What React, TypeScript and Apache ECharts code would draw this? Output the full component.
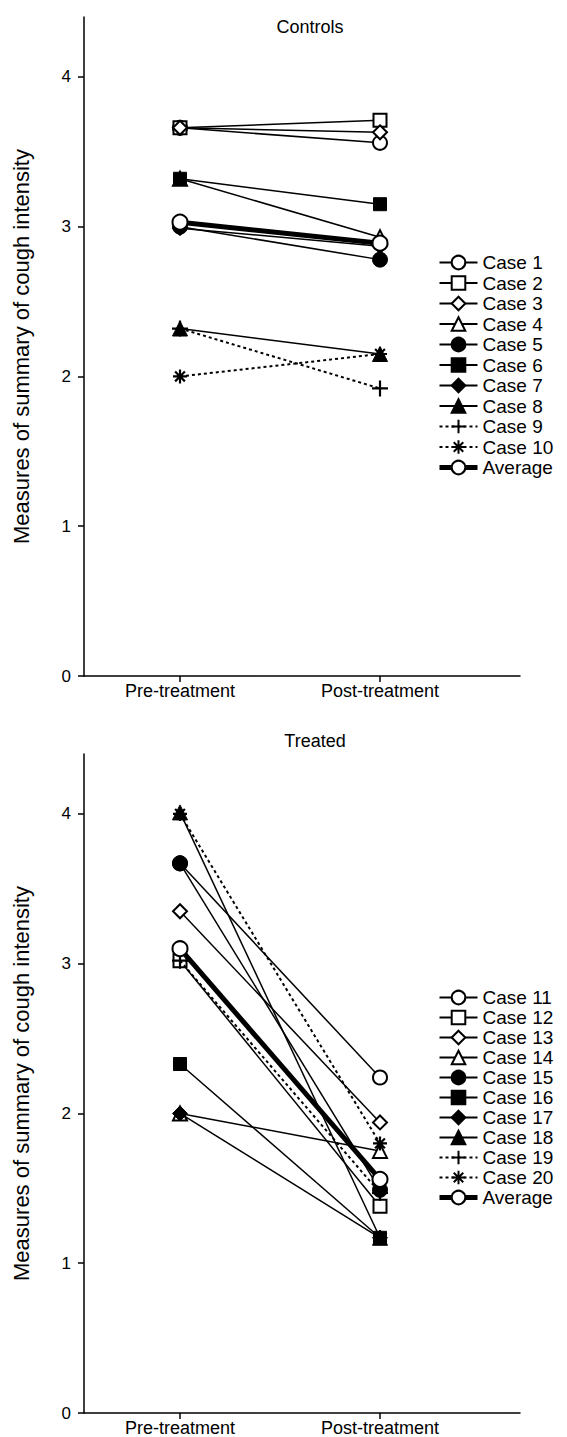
import React, { useEffect, useRef } from "react";
import * as echarts from "echarts";

const timeLabels = ["Pre-treatment", "Post-treatment"];
const timeValues = [1, 3];
const yTicks = [0, 1, 2, 3, 4];

const controlNames = ["Case 1", "Case 2", "Case 3", "Case 4", "Case 5", "Case 6", "Case 7", "Case 8", "Case 9", "Case 10"];
const controlPre = [3.66, 3.66, 3.66, 3.32, 3.0, 3.32, 2.99, 2.32, 2.32, 2.0];
const controlPost = [3.56, 3.71, 3.63, 2.93, 2.78, 3.15, 2.87, 2.15, 1.92, 2.15];
const controlAverage = [3.03, 2.89];

const treatedNames = ["Case 11", "Case 12", "Case 13", "Case 14", "Case 15", "Case 16", "Case 17", "Case 18", "Case 19", "Case 20"];
const treatedPre = [3.67, 3.02, 3.35, 2.0, 3.67, 2.33, 2.0, 4.01, 3.02, 4.0];
const treatedPost = [2.24, 1.38, 1.94, 1.75, 1.49, 1.17, 1.17, 1.17, 1.47, 1.8];
const treatedAverage = [3.1, 1.56];

const FONT = "Liberation Sans";
const PLUS = "path://M5 0L5 10M0 5L10 5";
const STAR = "path://M5 0L5 10M0 5L10 5M1.5 1.5L8.5 8.5M8.5 1.5L1.5 8.5";

function markerStyle(i: number) {
  const shapes = ["circle", "rect", "diamond", "triangle"];
  if (i < 4) {
    return { symbol: shapes[i], symbolSize: i === 1 ? 13 : 14, itemStyle: { color: "#fff", borderColor: "#000", borderWidth: 2 }, dashed: false };
  }
  if (i < 8) {
    return { symbol: shapes[i - 4], symbolSize: i === 5 ? 13 : 15, itemStyle: { color: "#000", borderColor: "#000", borderWidth: 1 }, dashed: false };
  }
  return {
    symbol: i === 8 ? PLUS : STAR,
    symbolSize: i === 8 ? 16 : 14,
    itemStyle: { color: "none", borderColor: "#000", borderWidth: 2.2 },
    dashed: true,
  };
}

function buildSeries(names: string[], pre: number[], post: number[], avg: number[], idx: number) {
  const list: any[] = names.map((name, i) => {
    const m = markerStyle(i);
    return {
      name,
      type: "line",
      xAxisIndex: idx,
      yAxisIndex: idx,
      data: [
        [timeValues[0], pre[i]],
        [timeValues[1], post[i]],
      ],
      symbol: m.symbol,
      symbolSize: m.symbolSize,
      showAllSymbol: true,
      itemStyle: m.itemStyle,
      lineStyle: { color: "#000", width: m.dashed ? 2 : 1.5, type: m.dashed ? [3, 3] : "solid" },
      z: 2 + i * 0.01,
    };
  });
  list.push({
    name: "Average",
    type: "line",
    xAxisIndex: idx,
    yAxisIndex: idx,
    data: [
      [timeValues[0], avg[0]],
      [timeValues[1], avg[1]],
    ],
    symbol: "circle",
    symbolSize: 15,
    itemStyle: { color: "#fff", borderColor: "#000", borderWidth: 2 },
    lineStyle: { color: "#000", width: 5 },
    z: 3,
  });
  return list;
}

const PLOT_H = 659;
const GRID_LEFT = 84;
const GRID_W = 436;
const TOPS = [17, 754];

function xAxis(idx: number) {
  return {
    type: "value",
    gridIndex: idx,
    min: 0.04,
    max: 4.4,
    splitLine: { show: false },
    axisLine: { lineStyle: { color: "#000", width: 1.5 } },
    axisTick: { show: true, customValues: timeValues, length: 6, lineStyle: { color: "#000", width: 1.5 } },
    axisLabel: {
      customValues: timeValues,
      margin: 6,
      color: "#000",
      fontFamily: FONT,
      fontSize: 18,
      formatter: (v: number) => timeLabels[timeValues.indexOf(v)] ?? "",
    },
  };
}

function yAxis(idx: number) {
  return {
    type: "value",
    gridIndex: idx,
    min: 0,
    max: 4.4,
    name: "Measures of summary of cough intensity",
    nameLocation: "middle",
    nameGap: 52,
    nameTextStyle: { color: "#000", fontFamily: FONT, fontSize: 22 },
    splitLine: { show: false },
    axisLine: { show: true, lineStyle: { color: "#000", width: 1.5 } },
    axisTick: { show: true, customValues: yTicks, length: 6, lineStyle: { color: "#000", width: 1.5 } },
    axisLabel: { customValues: yTicks, margin: 13, color: "#000", fontFamily: FONT, fontSize: 17 },
  };
}

function legend(names: string[], top: number, gap: number) {
  return {
    orient: "vertical",
    left: 432,
    top,
    itemWidth: 38,
    itemHeight: 17,
    itemGap: gap,
    data: [...names, { name: "Average", lineStyle: { width: 5 } }],
    textStyle: { color: "#000", fontFamily: FONT, fontSize: 19 },
  };
}

export default function App() {
  const ref = useRef<HTMLDivElement>(null);
  useEffect(() => {
    if (!ref.current) return;
    const chart = echarts.init(ref.current, null, { renderer: "svg" });
    chart.setOption({
      animation: false,
      backgroundColor: "#fff",
      grid: TOPS.map((t) => ({ left: GRID_LEFT, top: t, width: GRID_W, height: PLOT_H })),
      xAxis: [xAxis(0), xAxis(1)],
      yAxis: [yAxis(0), yAxis(1)],
      legend: [legend(controlNames, 248, 1.5), legend(treatedNames, 983, 1)],
      graphic: [
        { type: "text", x: 310, y: 27, style: { text: "Controls", fontFamily: FONT, fontSize: 18, fill: "#000", align: "center", verticalAlign: "middle" } },
        { type: "text", x: 315, y: 741, style: { text: "Treated", fontFamily: FONT, fontSize: 18, fill: "#000", align: "center", verticalAlign: "middle" } },
      ],
      series: [
        ...buildSeries(controlNames, controlPre, controlPost, controlAverage, 0),
        ...buildSeries(treatedNames, treatedPre, treatedPost, treatedAverage, 1),
      ],
    });
    return () => chart.dispose();
  }, []);
  return <div ref={ref} style={{ position: "absolute", left: 0, top: 0, width: 567, height: 1437, background: "#fff" }} />;
}
